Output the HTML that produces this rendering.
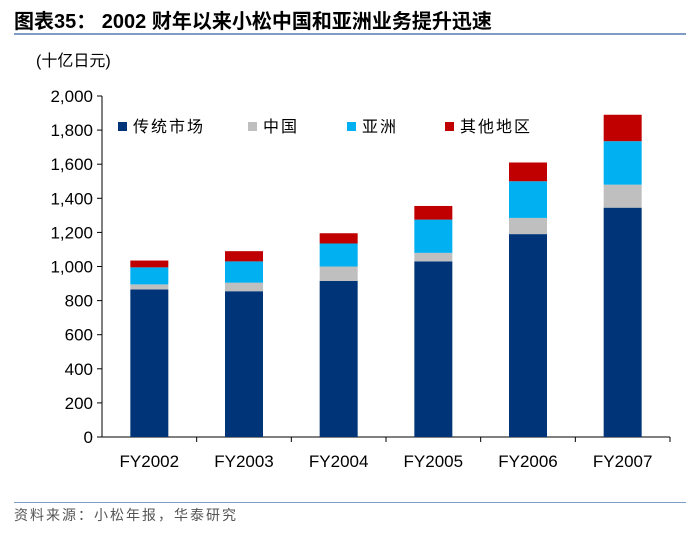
<!DOCTYPE html>
<html><head><meta charset="utf-8"><style>
body{margin:0;background:#fff;width:700px;height:529px;overflow:hidden;font-family:"Liberation Sans","Noto Sans CJK SC",sans-serif}
</style></head><body>
<svg id="c" width="700" height="529" xmlns="http://www.w3.org/2000/svg">
<text x="14" y="28" font-size="20" font-weight="bold" fill="#000" font-family="Liberation Sans,Noto Sans CJK SC,sans-serif">图表35：  2002 财年以来小松中国和亚洲业务提升迅速</text>
<rect x="14" y="33" width="672" height="2" fill="#7f9cc4"/>
<text x="36" y="66" font-size="16" fill="#000">(十亿日元)</text>
<rect x="14" y="502" width="672" height="1" fill="#7f9cc4"/>
<text x="14" y="520" font-size="14" fill="#555" letter-spacing="2">资料来源：小松年报，华泰研究</text>
<g id="plot"></g>
</svg>
<script>
const categories=["FY2002","FY2003","FY2004","FY2005","FY2006","FY2007"];
const legacy=[865,855,915,1030,1190,1345];
const china=[30,50,85,50,95,135];
const asia=[100,125,135,195,215,255];
const other=[40,60,60,80,110,155];
const yTicks=[0,200,400,600,800,1000,1200,1400,1600,1800,2000];
const tickLabels=["0","200","400","600","800","1,000","1,200","1,400","1,600","1,800","2,000"];
const seriesNames=["传统市场","中国","亚洲","其他地区"];
const colors=["#003478","#bfbfbf","#00b0f0","#c00000"];
const ns="http://www.w3.org/2000/svg";
const g=document.getElementById('plot');
const X0=102,X1=670,Y0=437,Y1=96;
const y=v=>Y0-(v/2000)*(Y0-Y1);
const slot=(X1-X0)/categories.length;
const xc=i=>X0+slot*(i+0.5);
function mk(t,a){const e=document.createElementNS(ns,t);for(const k in a)e.setAttribute(k,a[k]);g.appendChild(e);return e;}
let ax=mk('line',{x1:X0,y1:Y1,x2:X0,y2:Y0,stroke:'#000','stroke-width':1});


let bx=mk('line',{x1:X0,y1:Y0,x2:X1,y2:Y0,stroke:'#000','stroke-width':1});


yTicks.forEach((v,i)=>{
 let t=mk('line',{x1:X0-5,x2:X0,y1:y(v),y2:y(v),stroke:'#000'});
 
 
 let l=mk('text',{x:X0-9,y:y(v)+6,'font-size':17,'text-anchor':'end',fill:'#000'});
 l.textContent=tickLabels[i];
 
 
});
const series=[legacy,china,asia,other];
categories.forEach((c,i)=>{
 let base=0;
 series.forEach((s,k)=>{
  let r=mk('rect',{x:xc(i)-19,width:38,y:y(base+s[i]),height:y(base)-y(base+s[i]),fill:colors[k]});
  
  
  base+=s[i];
 });
 let t=mk('line',{x1:X0+slot*(i+1),x2:X0+slot*(i+1),y1:Y0,y2:Y0+5,stroke:'#000'});
 
 
 let l=mk('text',{x:xc(i),y:467,'font-size':17,'text-anchor':'middle',fill:'#000'});
 l.textContent=c;
 
 
});
const lx=[118,248,347,445];
seriesNames.forEach((n,k)=>{
 let r=mk('rect',{x:lx[k],y:122,width:9,height:9,fill:colors[k]});
 
 
 let t=mk('text',{x:lx[k]+15,y:132,'font-size':16,'letter-spacing':2,fill:'#000'});
 t.textContent=n;
 
 
});
</script>
</body></html>
